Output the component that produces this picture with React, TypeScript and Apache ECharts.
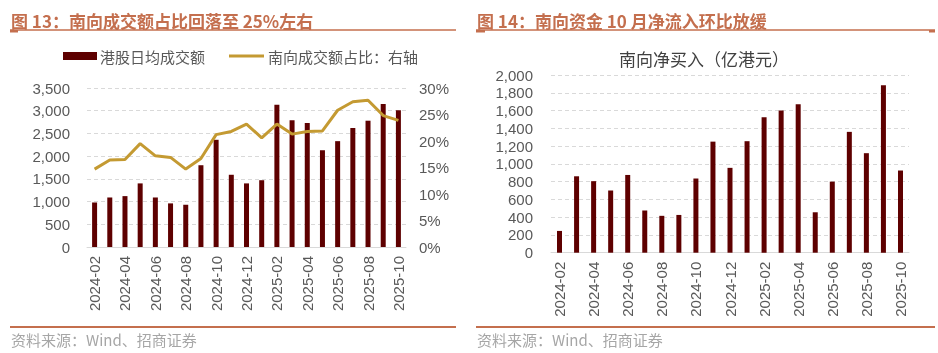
import React, { useEffect, useRef } from 'react';
import * as echarts from 'echarts';

const months = [
  '2024-02', '2024-03', '2024-04', '2024-05', '2024-06', '2024-07', '2024-08',
  '2024-09', '2024-10', '2024-11', '2024-12', '2025-01', '2025-02', '2025-03',
  '2025-04', '2025-05', '2025-06', '2025-07', '2025-08', '2025-09', '2025-10',
];
const hkTurnover = [980, 1090, 1120, 1400, 1090, 960, 930, 1800, 2360, 1590, 1400, 1470, 3130, 2790, 2730, 2130, 2330, 2620, 2780, 3150, 3010];
const southShare = [14.7, 16.4, 16.5, 19.5, 17.2, 16.9, 14.7, 16.7, 21.2, 21.8, 23.2, 20.6, 23.2, 21.3, 21.8, 21.9, 25.8, 27.4, 27.7, 24.8, 23.9];
const southNetBuy = [245, 860, 805, 700, 875, 475, 415, 425, 835, 1250, 955, 1255, 1525, 1600, 1670, 455, 800, 1360, 1120, 1885, 925];

const leftTitle = '图 13：南向成交额占比回落至 25%左右';
const rightTitle = '图 14：南向资金 10 月净流入环比放缓';
const barName = '港股日均成交额';
const lineName = '南向成交额占比：右轴';
const rightSub = '南向净买入（亿港元）';
const source = '资料来源：Wind、招商证券';

const ACCENT = '#C46F4E';
const BAR = '#5E0000';
const LINE = '#C49A32';
const LABEL = '#595959';
const GRIDC = '#D9D9D9';
const FONT = '"Liberation Sans", "Noto Sans CJK SC", sans-serif';
const CJK = '"Noto Sans CJK SC", sans-serif';

const fmt = (v: number) => v.toLocaleString('en-US');

export default function App() {
  const ref = useRef<HTMLDivElement>(null);
  useEffect(() => {
    if (!ref.current) return;
    const chart = echarts.init(ref.current, null, { renderer: 'svg' });
    const xCommon = (gi: number) => ({
      gridIndex: gi,
      type: 'category',
      data: months,
      axisLine: { lineStyle: { color: GRIDC, width: 1 } },
      axisTick: { interval: 1, length: 5, lineStyle: { color: GRIDC } },
      axisLabel: { interval: 1, rotate: 90, color: LABEL, fontSize: 15, margin: 9, fontFamily: FONT },
    });
    const split = { show: true, lineStyle: { color: GRIDC, type: [4, 3], width: 1 } };
    const text = (t: string, x: number, y: number, size: number, color: string, extra: any = {}) => ({
      type: 'text',
      x,
      y,
      style: { text: t, fontSize: size, fill: color, fontFamily: CJK, verticalAlign: 'middle', ...extra },
    });
    const hline = (x1: number, x2: number, y: number, w: number) => ({
      type: 'line',
      shape: { x1, y1: y, x2, y2: y },
      style: { stroke: ACCENT, lineWidth: w },
    });
    chart.setOption({
      animation: false,
      textStyle: { fontFamily: FONT },
      grid: [
        { left: 87, top: 88, width: 319, height: 159 },
        { left: 551, top: 75, width: 358, height: 177.7 },
      ],
      xAxis: [xCommon(0), xCommon(1)],
      yAxis: [
        {
          gridIndex: 0, type: 'value', min: 0, max: 3500, interval: 500,
          axisLine: { show: false }, axisTick: { show: false },
          axisLabel: { color: LABEL, fontSize: 15, margin: 17, formatter: fmt },
          splitLine: split,
        },
        {
          gridIndex: 0, type: 'value', position: 'right', min: 0, max: 30, interval: 5,
          axisLine: { show: false }, axisTick: { show: false },
          axisLabel: { color: LABEL, fontSize: 15, margin: 13, formatter: '{value}%' },
          splitLine: { show: false },
        },
        {
          gridIndex: 1, type: 'value', min: 0, max: 2000, interval: 200,
          axisLine: { show: false }, axisTick: { show: false },
          axisLabel: { color: LABEL, fontSize: 15, margin: 18, formatter: fmt },
          splitLine: split,
        },
      ],
      series: [
        {
          name: barName, type: 'bar', xAxisIndex: 0, yAxisIndex: 0,
          data: hkTurnover, barWidth: 5, itemStyle: { color: BAR },
        },
        {
          name: lineName, type: 'line', xAxisIndex: 0, yAxisIndex: 1,
          data: southShare, symbol: 'none', lineStyle: { color: LINE, width: 3 }, z: 5,
        },
        {
          name: rightSub, type: 'bar', xAxisIndex: 1, yAxisIndex: 2,
          data: southNetBuy, barWidth: 5, itemStyle: { color: BAR },
        },
      ],
      graphic: [
        text(leftTitle, 11, 20, 17, ACCENT, { fontWeight: 'bold' }),
        text(rightTitle, 477, 20, 17, ACCENT, { fontWeight: 'bold' }),
        hline(10, 456, 30, 1.5),
        hline(476, 935, 30, 1.5),
        { type: 'rect', shape: { x: 10, y: 30, width: 8, height: 2.5 }, style: { fill: ACCENT } },
        { type: 'rect', shape: { x: 476, y: 30, width: 9, height: 2.5 }, style: { fill: ACCENT } },
        { type: 'rect', shape: { x: 929, y: 30, width: 6, height: 2.5 }, style: { fill: ACCENT } },
        { type: 'rect', shape: { x: 63, y: 52, width: 34, height: 8 }, style: { fill: BAR } },
        text(barName, 100, 56, 15, LABEL),
        { type: 'line', shape: { x1: 229, y1: 56, x2: 264, y2: 56 }, style: { stroke: LINE, lineWidth: 3 } },
        text(lineName, 268, 56, 15, LABEL),
        text(rightSub, 704, 58, 17, '#404040', { align: 'center' }),
        hline(10, 456, 327, 2),
        hline(476, 935, 327, 2),
        text(source, 11, 339, 15, '#A6A6A6'),
        text(source, 477, 339, 15, '#A6A6A6'),
      ],
    });
    return () => chart.dispose();
  }, []);
  return <div ref={ref} style={{ position: 'fixed', left: 0, top: 0, width: 938, height: 353 }} />;
}
